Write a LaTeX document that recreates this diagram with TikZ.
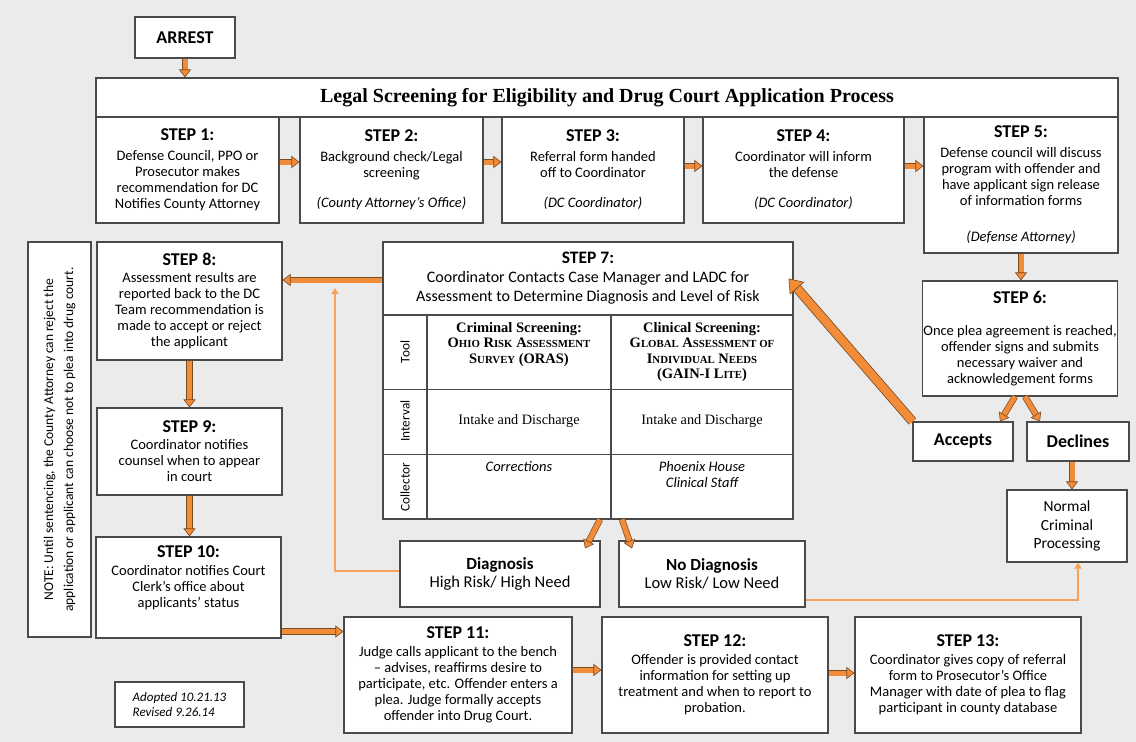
\documentclass[tikz,border=0pt]{standalone}
\usepackage{fontspec}
\setmainfont{Carlito}
\newfontfamily\camfont{Liberation Serif}
\usetikzlibrary{arrows.meta}

\definecolor{bgpaper}{HTML}{EBEBEB}
\definecolor{boxline}{HTML}{4A4A4A}
\definecolor{arrowfill}{HTML}{F28C38}
\definecolor{arrowedge}{HTML}{7A4A20}
\definecolor{linkline}{HTML}{F5A25A}

\newcommand\stephead[1]{{\fontsize{18}{20}\selectfont\bfseries #1}}
\newcommand\minicaps[1]{{\fontsize{10.8}{12}\selectfont #1}}

\begin{document}
\begin{tikzpicture}[x=1pt, y=-1pt,
	box/.style={draw=boxline, fill=white, line width=1.1pt, align=center, inner sep=1pt, font=\fontsize{14.5}{16}\selectfont},
	bigbox/.style={box, font=\fontsize{18}{20}\selectfont\bfseries},
	cell/.style={align=center, inner sep=0pt, font=\camfont\fontsize{14.3}{15.5}\selectfont},
	rowname/.style={rotate=90, inner sep=0pt, font=\fontsize{13.3}{14}\selectfont},
	flow/.style={draw=arrowfill, line width=5pt, preaction={draw=arrowedge, line width=6.4pt, -, shorten >=7pt}, -{Triangle[length=8pt, width=12pt, line width=0.6pt, color=arrowedge, fill=arrowfill]}},
	bigflow/.style={draw=arrowfill, line width=8pt, preaction={draw=arrowedge, line width=9.6pt, -, shorten >=11pt}, -{Triangle[length=13pt, width=19pt, line width=0.6pt, color=arrowedge, fill=arrowfill]}},
	link/.style={draw=linkline, line width=1.8pt, -{Triangle[length=6pt, width=7pt]}}]
	\useasboundingbox (0,0) rectangle (1136,742);
	\fill[bgpaper] (0,0) rectangle (1136,742);

	% top row
	\node[bigbox, minimum width=100, minimum height=41] (arrest) at (185,37.5) {ARREST};
	\node[box, minimum width=1022, minimum height=39, font=\camfont\bfseries\fontsize{20}{22}\selectfont] (title) at (607,97.5) {Legal Screening for Eligibility and Drug Court Application Process};
	\node[box, minimum width=183, minimum height=106] (s1) at (187.5,170) {\stephead{STEP 1:}\\[4pt] Defense Council, PPO or\\ Prosecutor makes\\ recommendation for DC\\ Notifies County Attorney};
	\node[box, minimum width=183, minimum height=106] (s2) at (391.5,170) {\stephead{STEP 2:}\\[4pt] Background check/Legal\\ screening\\[14pt] \textit{(County Attorney’s Office)}};
	\node[box, minimum width=182, minimum height=106] (s3) at (593,170) {\stephead{STEP 3:}\\[4pt] Referral form handed\\ off to Coordinator\\[14pt] \textit{(DC Coordinator)}};
	\node[box, minimum width=201, minimum height=106] (s4) at (803.5,170) {\stephead{STEP 4:}\\[4pt] Coordinator will inform\\ the defense\\[14pt] \textit{(DC Coordinator)}};
	\node[box, minimum width=194, minimum height=136] (s5) at (1021,185) {\stephead{STEP 5:}\\[4pt] Defense council will discuss\\ program with offender and\\ have applicant sign release\\ of information forms\\[20pt] \textit{(Defense Attorney)}};

	% right column
	\node[box, minimum width=194, minimum height=115] (s6) at (1020,338.5) {\stephead{STEP 6:}\\[16pt] Once plea agreement is reached,\\ offender signs and submits\\ necessary waiver and\\ acknowledgement forms};
	\node[bigbox, minimum width=100, minimum height=39] (accepts) at (963,441.5) {Accepts};
	\node[bigbox, minimum width=102, minimum height=39] (declines) at (1078,441.5) {Declines};
	\node[box, minimum width=120, minimum height=72, font=\fontsize{15.5}{18.5}\selectfont] (normal) at (1067,526) {Normal\\ Criminal\\ Processing};

	% assessment
	\node[box, minimum width=410, minimum height=73, font=\fontsize{16}{19}\selectfont] (s7) at (588,278.5) {{\fontsize{17.5}{19}\selectfont\bfseries STEP 7:}\\ Coordinator Contacts Case Manager and LADC for\\ Assessment to Determine Diagnosis and Level of Risk};
	\node[box, minimum width=410, minimum height=204] (tab) at (588,417) {};
	\draw[boxline, line width=1.3pt] (427,315) -- (427,519) (611,315) -- (611,519);
	\draw[boxline, line width=1pt] (383,389) -- (793,389) (383,454) -- (793,454);
	\node[rowname] (tool) at (405,352) {Tool};
	\node[rowname] (interval) at (405,421) {Interval};
	\node[rowname] (collector) at (405,487) {Collector};
	\node[cell, anchor=north, font=\camfont\bfseries\fontsize{14.5}{15.5}\selectfont] (crim) at (519,322) {Criminal Screening:\\ O\minicaps{HIO} R\minicaps{ISK} A\minicaps{SSESSMENT}\\ S\minicaps{URVEY} (ORAS)};
	\node[cell, anchor=north, font=\camfont\bfseries\fontsize{14.5}{15.5}\selectfont] (clin) at (702,322) {Clinical Screening:\\ G\minicaps{LOBAL} A\minicaps{SSESSMENT OF}\\ I\minicaps{NDIVIDUAL} N\minicaps{EEDS}\\ (GAIN-I L\minicaps{ITE})};
	\node[cell] (int1) at (519,421) {Intake and Discharge};
	\node[cell] (int2) at (702,421) {Intake and Discharge};
	\node[cell, anchor=north, font=\itshape\fontsize{14.5}{16}\selectfont] (col1) at (519,461) {Corrections};
	\node[cell, anchor=north, font=\itshape\fontsize{14.5}{16}\selectfont] (col2) at (702,461) {Phoenix House\\ Clinical Staff};
	\node[box, minimum width=200, minimum height=66] (diag) at (500,574) {{\fontsize{17}{18}\selectfont\bfseries Diagnosis}\\[2pt] {\fontsize{16.5}{19}\selectfont High Risk/ High Need}};
	\node[box, minimum width=186, minimum height=66] (nodiag) at (712,574) {{\fontsize{17}{18}\selectfont\bfseries No Diagnosis}\\[2pt] {\fontsize{16.5}{19}\selectfont Low Risk/ Low Need}};

	% left column
	\node[box, rotate=90, minimum width=395, minimum height=63, font=\fontsize{13.5}{20}\selectfont] (note) at (59.5,439.5) {NOTE: Until sentencing, the County Attorney can reject the\\ application or applicant can choose not to plea into drug court.};
	\node[box, minimum width=185, minimum height=118] (s8) at (189.5,301) {\stephead{STEP 8:}\\[1pt] Assessment results are\\ reported back to the DC\\ Team recommendation is\\ made to accept or reject\\ the applicant};
	\node[box, minimum width=185, minimum height=87] (s9) at (189.5,451.5) {\stephead{STEP 9:}\\[1pt] Coordinator notifies\\ counsel when to appear\\ in court};
	\node[box, minimum width=185, minimum height=101] (s10) at (188.5,587.5) {\stephead{STEP 10:}\\[2pt] Coordinator notifies Court\\ Clerk’s office about\\ applicants’ status\\[6pt]};
	\node[box, align=left, minimum width=129, minimum height=45, font=\itshape\fontsize{13}{15}\selectfont] (adopted) at (179.5,704.5) {Adopted 10.21.13\\ Revised 9.26.14};

	% bottom row
	\node[box, minimum width=228, minimum height=116] (s11) at (458,675) {\stephead{STEP 11:}\\[2pt] Judge calls applicant to the bench\\ – advises, reaffirms desire to\\ participate, etc. Offender enters a\\ plea. Judge formally accepts\\ offender into Drug Court.};
	\node[box, minimum width=226, minimum height=116] (s12) at (715,675) {\stephead{STEP 12:}\\[2pt] Offender is provided contact\\ information for setting up\\ treatment and when to report to\\ probation.};
	\node[box, minimum width=226, minimum height=116] (s13) at (968,675) {\stephead{STEP 13:}\\[2pt] Coordinator gives copy of referral\\ form to Prosecutor’s Office\\ Manager with date of plea to flag\\ participant in county database};

	% arrows
	\draw[flow] (arrest) -- (arrest |- title.north);
	\draw[flow] ([yshift=8pt]s1.east) -- ([yshift=8pt]s1.east -| s2.west);
	\draw[flow] ([yshift=8pt]s2.east) -- ([yshift=8pt]s2.east -| s3.west);
	\draw[flow] ([yshift=4pt]s3.east) -- ([yshift=4pt]s3.east -| s4.west);
	\draw[flow] ([yshift=4pt]s4.east) -- ([yshift=4pt]s4.east -| s5.west);
	\draw[flow] (s5.south) -- (s5.south |- s6.north);
	\draw[flow] ([xshift=-5pt]s6.south) -- ([xshift=37pt]accepts.north);
	\draw[flow] ([xshift=5pt]s6.south) -- ([xshift=-38pt]declines.north);
	\draw[bigflow] (accepts.north west) -- ([xshift=-5pt]s7.east);
	\draw[flow] ([xshift=-6pt]declines.south) -- ([xshift=-6pt]declines.south |- normal.north);
	\draw[flow] ([yshift=-1.5pt]s7.west) -- ([yshift=-1.5pt]s7.west -| s8.east);
	\draw[flow] ([xshift=12pt]tab.south) -- ([xshift=85pt, yshift=-8pt]diag.north);
	\draw[flow] ([xshift=34pt]tab.south) -- ([xshift=-80pt, yshift=-8pt]nodiag.north);
	\draw[flow] (s8.south) -- (s8.south |- s9.north);
	\draw[flow] (s9.south) -- (s9.south |- s10.north);
	\draw[flow] ([yshift=-44pt]s10.east) -- ([yshift=-44pt]s10.east -| s11.west);
	\draw[flow] ([yshift=5pt]s11.east) -- ([yshift=5pt]s11.east -| s12.west);
	\draw[flow] ([yshift=2pt]s12.east) -- ([yshift=2pt]s12.east -| s13.west);

	% thin return lines
	\coordinate (retest) at (335,288);
	\draw[link] ([yshift=3pt]diag.west) -| (retest);
	\draw[link] ([yshift=-26pt]nodiag.east) -| ([xshift=11pt]normal.south);
\end{tikzpicture}
\end{document}
